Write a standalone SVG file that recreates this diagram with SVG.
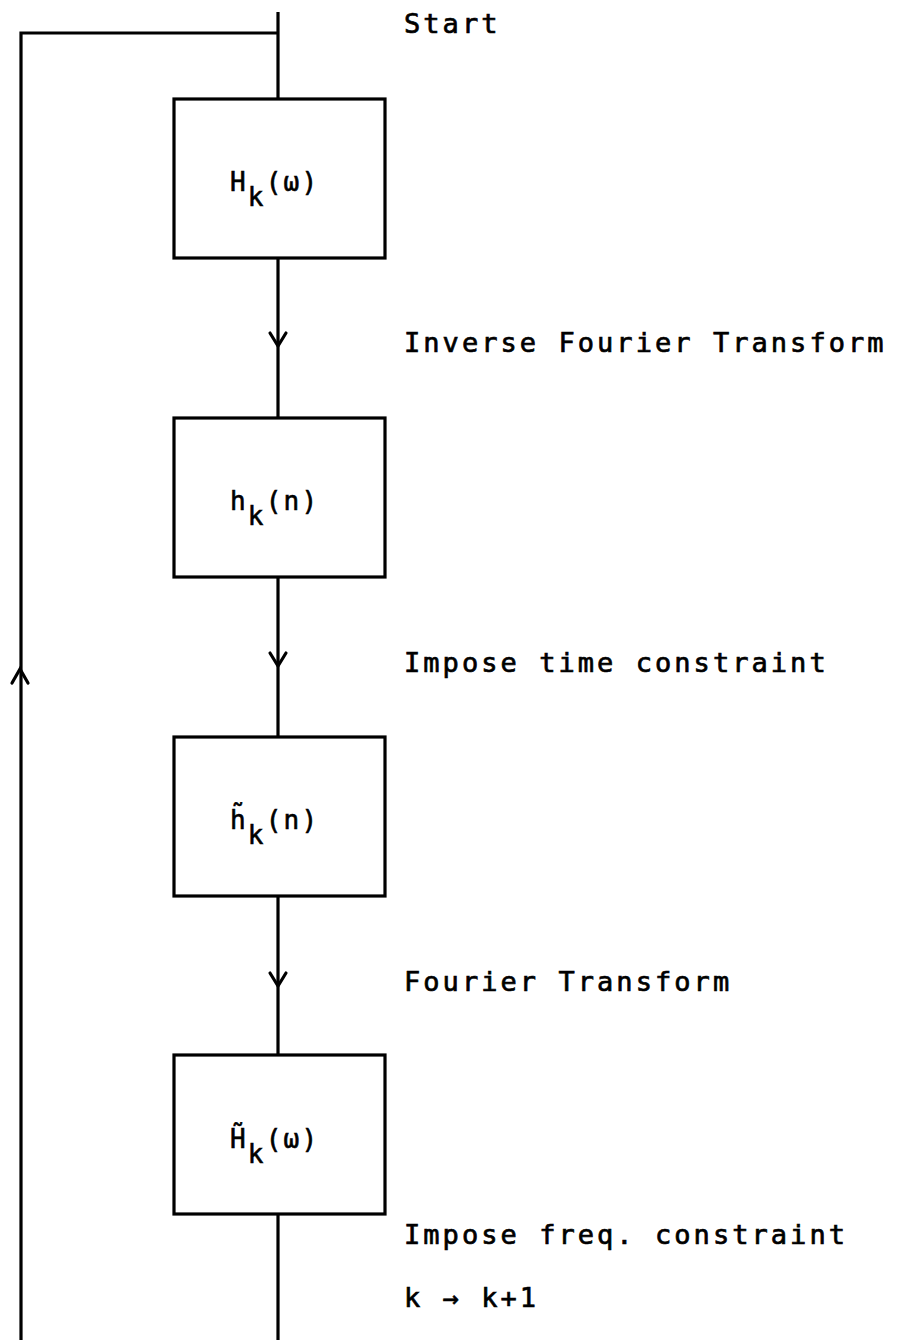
<svg xmlns="http://www.w3.org/2000/svg" width="902" height="1340" viewBox="0 0 902 1340">
  <defs>
    <style>
      .box { fill: #ffffff; stroke: #000000; stroke-width: 3.2; }
      .wire { fill: none; stroke: #000000; stroke-width: 3.2; }
      .head { fill: none; stroke: #000000; stroke-width: 3.2; stroke-linecap: round; stroke-linejoin: miter; }
      .lbl { font-family: "DejaVu Sans Mono", "Liberation Mono", monospace; font-size: 27px; letter-spacing: 3.05px; fill: #000000; stroke: #000000; stroke-width: 0.7px; }
      .sym { font-family: "DejaVu Sans Mono", "Liberation Mono", monospace; font-size: 26px; letter-spacing: 2.2px; fill: #000000; stroke: #000000; stroke-width: 0.6px; }
    </style>
  </defs>
  <rect width="902" height="1340" fill="#ffffff"/>

  <!-- connectors: main flow line, feedback loop and arrowheads -->
  <g id="connectors">
    <line class="wire" x1="278" y1="12" x2="278" y2="99"/>
    <line class="wire" x1="278" y1="258" x2="278" y2="418"/>
    <line class="wire" x1="278" y1="577" x2="278" y2="737"/>
    <line class="wire" x1="278" y1="896" x2="278" y2="1055"/>
    <line class="wire" x1="278" y1="1214" x2="278" y2="1340"/>
    <polyline class="wire" points="278,33 21,33 21,1340"/>
    <!-- downward arrowheads -->
    <polyline class="head" points="270,333 278,346 286,333"/>
    <polyline class="head" points="270,653 278,666 286,653"/>
    <polyline class="head" points="270,973 278,986 286,973"/>
    <!-- upward arrowhead on the return path -->
    <polyline class="head" points="12,683 20,669 28,683"/>
  </g>

  <g id="start-label">
    <text class="lbl" x="404" y="33">Start</text>
  </g>

  <g id="node-H">
    <rect class="box" x="174" y="99" width="211" height="159"/>
    <text class="sym" x="230" y="191">H<tspan dy="15">k</tspan><tspan dy="-15">(ω)</tspan></text>
  </g>

  <g id="label-ift">
    <text class="lbl" x="404" y="352">Inverse Fourier Transform</text>
  </g>

  <g id="node-h">
    <rect class="box" x="174" y="418" width="211" height="159"/>
    <text class="sym" x="230" y="510">h<tspan dy="15">k</tspan><tspan dy="-15">(n)</tspan></text>
  </g>

  <g id="label-time">
    <text class="lbl" x="404" y="672">Impose time constraint</text>
  </g>

  <g id="node-htilde">
    <rect class="box" x="174" y="737" width="211" height="159"/>
    <text class="sym" x="230" y="829">h̃<tspan dy="15">k</tspan><tspan dy="-15">(n)</tspan></text>
  </g>

  <g id="label-ft">
    <text class="lbl" x="404" y="991">Fourier Transform</text>
  </g>

  <g id="node-Htilde">
    <rect class="box" x="174" y="1055" width="211" height="159"/>
    <text class="sym" x="230" y="1148">H̃<tspan dy="15">k</tspan><tspan dy="-15">(ω)</tspan></text>
  </g>

  <g id="label-freq">
    <text class="lbl" x="404" y="1244">Impose freq. constraint</text>
    <text class="lbl" x="404" y="1307">k → k+1</text>
  </g>
</svg>
